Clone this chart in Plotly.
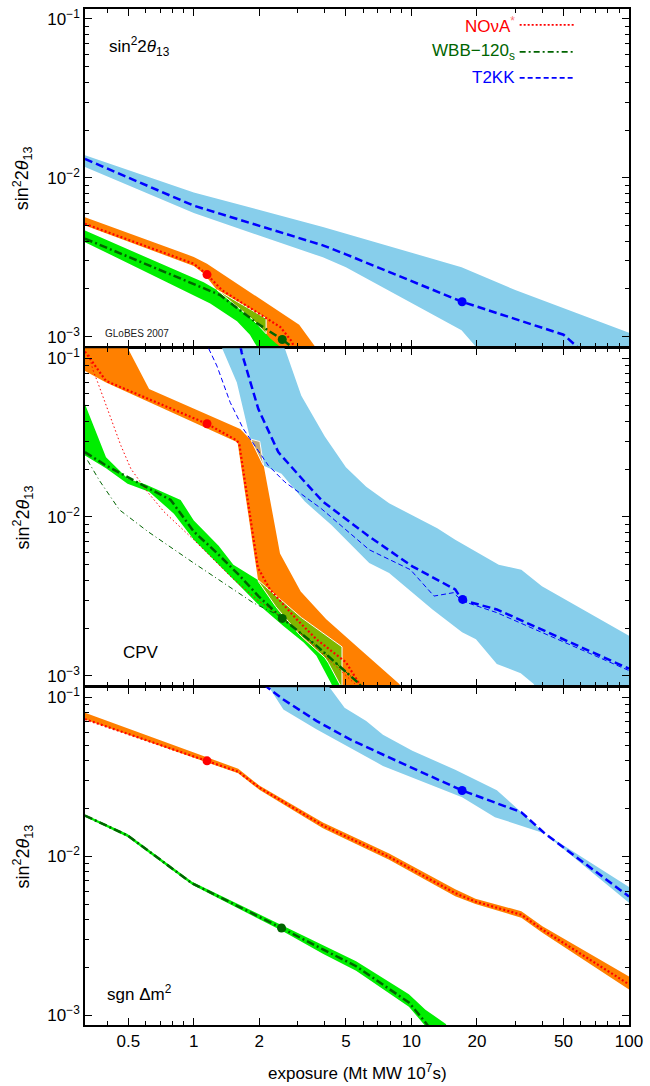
import numpy as np
import plotly.graph_objects as go
from plotly.subplots import make_subplots

# ================= DATA =================
# ---- panel 1: sin^2 2theta13 ----
p1_nova_line_x = [0.316, 1.0, 1.15, 1.35, 2.5, 2.81, 3.1]
p1_nova_line_y = [0.00513, 0.00288, 0.00246, 0.00196, 0.00115, 0.00094, 0.0007]
p1_nova_up_x = [0.316, 1.0, 1.15, 3.05, 3.6, 4.2]
p1_nova_up_y = [0.00565, 0.00318, 0.00288, 0.00119, 0.00087, 0.0006]
p1_nova_lo_x = [0.316, 1.0, 1.11, 1.278, 1.946, 2.24, 2.58, 2.9]
p1_nova_lo_y = [0.00501, 0.00279, 0.0025, 0.00197, 0.00122, 0.00098, 0.00083, 0.0006]

p1_wbb_line_x = [0.316, 1.32, 1.946, 2.55, 2.86, 3.1]
p1_wbb_line_y = [0.00414, 0.00183, 0.00122, 0.00096, 0.00085, 0.0007]
p1_wbb_up_x = [0.316, 1.11, 1.278, 2.49, 2.97, 3.3]
p1_wbb_up_y = [0.00466, 0.0022, 0.00197, 0.00116, 0.00088, 0.0006]
p1_wbb_lo_x = [0.316, 1.19, 1.58, 1.81, 1.946, 2.15]
p1_wbb_lo_y = [0.00394, 0.00162, 0.00125, 0.00103, 0.00087, 0.0006]

p1_t2kk_line_x = [0.316, 1.0, 3.92, 5.0, 17.1, 50, 57.5, 65]
p1_t2kk_line_y = [0.01315, 0.00668, 0.00376, 0.0033, 0.00166, 0.00103, 0.00087, 0.0007]
p1_t2kk_up_x = [0.316, 1.0, 3.92, 17.0, 30, 100]
p1_t2kk_up_y = [0.0139, 0.0081, 0.0049, 0.00274, 0.00197, 0.00106]
p1_t2kk_lo_x = [0.316, 1.0, 3.92, 5.0, 17.0, 19.7, 22, 100]
p1_t2kk_lo_y = [0.0117, 0.0060, 0.00316, 0.00274, 0.0011, 0.00087, 0.0006, 0.0003]

p1_dots_x = [1.15, 2.55, 17.1]
p1_dots_y = [0.00246, 0.00096, 0.00166]

# ---- panel 2: CPV ----
p2_nova_line_x = [0.316, 0.395, 1.15, 1.577, 1.62, 1.8, 1.97, 2.24, 2.97, 3.66, 5.0, 5.77, 6.5]
p2_nova_line_y = [0.11, 0.0718, 0.0386, 0.0303, 0.0285, 0.0105, 0.0048, 0.0035, 0.00227, 0.0017, 0.00122, 0.00089, 0.0007]
p2_nova_up_x = [0.316, 0.49, 0.623, 1.634, 1.81, 2.01, 2.09, 2.49, 3.1, 4.06, 5.77, 8.8, 10.5]
p2_nova_up_y = [0.15, 0.12, 0.064, 0.0358, 0.031, 0.030, 0.0215, 0.0059, 0.0034, 0.00227, 0.00148, 0.00089, 0.0006]
p2_nova_lo_x = [0.316, 0.395, 1.577, 1.59, 1.78, 1.94, 1.98, 2.49, 3.2, 4.06, 4.67, 5.5]
p2_nova_lo_y = [0.083, 0.0702, 0.0296, 0.0293, 0.0105, 0.0047, 0.0039, 0.0025, 0.0017, 0.00128, 0.00089, 0.0006]
p2_nova_thin_x = [0.33, 0.343, 0.362, 0.417, 0.462, 0.514, 0.612, 0.729, 1.0, 1.47, 1.946, 2.58, 3.66, 5.5]
p2_nova_thin_y = [0.105, 0.0851, 0.0702, 0.0414, 0.0282, 0.0201, 0.0144, 0.0108, 0.00718, 0.00424, 0.00303, 0.0023, 0.0015, 0.00089]

p2_wbb_line_x = [0.316, 0.395, 0.601, 0.783, 1.0, 1.278, 1.634, 1.98, 2.55, 3.66, 5.77, 6.5]
p2_wbb_line_y = [0.0256, 0.0211, 0.0155, 0.0128, 0.0081, 0.00593, 0.00424, 0.00318, 0.0023, 0.00155, 0.00089, 0.0007]
p2_wbb_up_x = [0.316, 0.395, 0.496, 0.601, 0.87, 1.0, 1.30, 1.52, 1.98, 2.97, 3.92, 6.4, 6.99, 7.8]
p2_wbb_up_y = [0.0514, 0.0238, 0.0175, 0.0160, 0.0128, 0.0095, 0.0066, 0.0050, 0.0040, 0.00244, 0.00188, 0.00113, 0.00089, 0.0006]
p2_wbb_lo_x = [0.316, 0.395, 0.496, 0.623, 0.69, 0.81, 1.0, 1.278, 1.634, 1.946, 2.58, 3.2, 3.66, 4.29, 4.8]
p2_wbb_lo_y = [0.0244, 0.0203, 0.0162, 0.0144, 0.0128, 0.0105, 0.00718, 0.00513, 0.00367, 0.00288, 0.00206, 0.00162, 0.00134, 0.00089, 0.0006]
p2_wbb_thin_x = [0.325, 0.368, 0.455, 0.615, 1.0, 1.37, 1.88, 2.49, 3.66, 5.77, 6.5]
p2_wbb_thin_y = [0.0227, 0.0170, 0.0111, 0.0081, 0.00513, 0.00385, 0.00288, 0.00238, 0.00155, 0.00089, 0.0007]

p2_t2kk_line_x = [1.6, 1.66, 1.98, 2.445, 3.24, 3.92, 6.4, 10.1, 15.9, 17.1, 24.7, 100]
p2_t2kk_line_y = [0.14, 0.108, 0.0478, 0.0256, 0.0166, 0.0125, 0.00753, 0.00489, 0.0035, 0.0030, 0.00262, 0.00111]
p2_t2kk_up_x = [1.3, 2.62, 3.12, 4.0, 5.0, 6.2, 7.9, 13.15, 15.9, 25.2, 32, 39.8, 100]
p2_t2kk_up_y = [0.2, 0.115, 0.0579, 0.0321, 0.0206, 0.0155, 0.0122, 0.0085, 0.00718, 0.0050, 0.00466, 0.00367, 0.00179]
p2_t2kk_lo_x = [1.3, 1.577, 1.81, 2.087, 2.53, 3.24, 4.29, 6.4, 7.9, 10.1, 12.5, 17.1, 19.8, 24.7, 31.8, 36.5, 40, 100]
p2_t2kk_lo_y = [0.13, 0.0702, 0.0315, 0.0211, 0.0187, 0.0125, 0.0089, 0.00513, 0.00445, 0.00334, 0.00262, 0.00188, 0.0017, 0.00119, 0.00104, 0.00089, 0.0006, 0.0003]
p2_t2kk_thin_x = [1.17, 1.278, 1.47, 1.69, 2.2, 2.62, 3.85, 6.4, 9.9, 12.7, 15.6, 17.1, 24.7, 100]
p2_t2kk_thin_y = [0.115, 0.0891, 0.0526, 0.0358, 0.0211, 0.0166, 0.0113, 0.00622, 0.00466, 0.00318, 0.00334, 0.00296, 0.0025, 0.00108]

p2_dots_x = [1.15, 2.55, 17.2]
p2_dots_y = [0.0386, 0.0023, 0.00303]

# ---- panel 3: sgn dm^2 ----
p3_nova_x = [0.316, 1.15, 1.6, 2.0, 3.92, 7.9, 15.9, 19.7, 32, 40, 100]
p3_nova_line_y = [0.0728, 0.0398, 0.0340, 0.0270, 0.0156, 0.0099, 0.00585, 0.00518, 0.00428, 0.00345, 0.00156]
p3_nova_up_y = [0.080, 0.0415, 0.0355, 0.0278, 0.0163, 0.0104, 0.0062, 0.0054, 0.0045, 0.00362, 0.00175]
p3_nova_lo_y = [0.0726, 0.0390, 0.0332, 0.0262, 0.0150, 0.0095, 0.0056, 0.0050, 0.0041, 0.0033, 0.00145]

p3_wbb_line_x = [0.316, 0.496, 0.982, 1.5, 2.53, 3.92, 5.57, 9.74, 11.6, 14.4]
p3_wbb_line_y = [0.0180, 0.0135, 0.00675, 0.00506, 0.00353, 0.00259, 0.00203, 0.0012, 0.0009, 0.0006]
p3_wbb_up_x = [0.316, 0.496, 0.982, 1.5, 2.53, 3.92, 5.57, 9.74, 11.6, 14.4, 16.0]
p3_wbb_up_y = [0.0183, 0.0138, 0.0069, 0.0052, 0.0037, 0.00275, 0.00218, 0.00135, 0.00108, 0.00088, 0.0006]
p3_wbb_lo_x = [0.316, 0.496, 0.982, 1.5, 2.53, 3.92, 5.57, 9.74, 11.6, 14.4]
p3_wbb_lo_y = [0.0177, 0.0132, 0.0066, 0.0049, 0.0034, 0.00243, 0.0019, 0.00113, 0.00085, 0.0006]

p3_t2kk_line_x = [2.1, 2.58, 3.66, 5.2, 7.9, 17.1, 32, 41, 100]
p3_t2kk_line_y = [0.12, 0.0967, 0.071, 0.0545, 0.0418, 0.0259, 0.0189, 0.0139, 0.00557]
p3_t2kk_up_x = [2.1, 4.21, 4.93, 6.2, 7.4, 10.1, 15.9, 24.7, 41, 100]
p3_t2kk_up_y = [0.3, 0.115, 0.086, 0.071, 0.058, 0.046, 0.035, 0.026, 0.0139, 0.0064]
p3_t2kk_lo_x = [2.1, 2.58, 3.66, 7.4, 17.1, 24.2, 41, 100]
p3_t2kk_lo_y = [0.13, 0.0838, 0.063, 0.037, 0.0235, 0.0176, 0.0139, 0.0051]

p3_dots_x = [1.15, 2.53, 17.1]
p3_dots_y = [0.0398, 0.00353, 0.0259]

# ---- axes / labels ----
x_major = [0.5, 1, 2, 5, 10, 20, 50, 100]
x_major_text = ["0.5", "1", "2", "5", "10", "20", "50", "100"]
x_minor = [0.4, 0.6, 0.7, 0.8, 0.9, 3, 4, 6, 7, 8, 9, 30, 40, 60, 70, 80, 90]
y_major = [1e-3, 1e-2, 1e-1]
y_major_text = ["10<sup>\u22123</sup>", "10<sup>\u22122</sup>", "10<sup>\u22121</sup>"]
y_minor = [k * 1e-3 for k in range(2, 10)] + [k * 1e-2 for k in range(2, 10)]
panel_labels = ["sin<sup>2</sup>2<i>\u03b8</i><sub>13</sub>", "CPV", "sgn \u0394m<sup>2</sup>"]
y_title = "sin<sup>2</sup>2<i>\u03b8</i><sub>13</sub>"
x_title = "exposure (Mt MW 10<sup>7</sup>s)"
legend_names = ["NO\u03bdA<sup><span style='color:#ff7070'>*</span></sup>", "WBB\u2212120<sub>s</sub>", "T2KK"]

# ================= STYLE =================
FONT = "Liberation Sans, Arial, Helvetica, sans-serif"
ORANGE = (255, 128, 0)
GREEN = (0, 238, 0)
SKY = (135, 206, 235)
RED = "#ff0000"
DGREEN = "#006400"
BLUE = "#0000ff"
H_PLOT = 1086 - 7 - 61
LW = 1.5


def rgb(c):
    return "rgb(%d,%d,%d)" % c


def mix(a, b):
    return tuple((p + q) // 2 for p, q in zip(a, b))


fig = make_subplots(rows=3, cols=1, shared_xaxes=True, vertical_spacing=0)


def add_band(row, xu, yu, xl, yl, color):
    fig.add_trace(go.Scatter(x=list(xu) + list(xl)[::-1], y=list(yu) + list(yl)[::-1],
                             fill="toself", fillcolor=rgb(color), mode="lines",
                             line=dict(width=0, color=rgb(color)), hoverinfo="skip",
                             showlegend=False), row=row, col=1)


def interp_log(xs, ys, xg):
    return 10 ** np.interp(np.log10(xg), np.log10(xs), np.log10(ys))


def add_overlap(row, A, B, color):
    arrs = [A[0], A[2], B[0], B[2]]
    x0 = max(min(a) for a in arrs)
    x1 = min(max(a) for a in arrs)
    if x0 >= x1:
        return
    xg = np.logspace(np.log10(x0), np.log10(x1), 900)
    hi = np.minimum(interp_log(A[0], A[1], xg), interp_log(B[0], B[1], xg))
    lo = np.maximum(interp_log(A[2], A[3], xg), interp_log(B[2], B[3], xg))
    m = hi > lo
    px, py = [], []
    i, n = 0, len(xg)
    while i < n:
        if m[i]:
            j = i
            while j < n and m[j]:
                j += 1
            xs = list(xg[i:j])
            px += xs + xs[::-1] + [xs[0], None]
            py += list(hi[i:j]) + list(lo[i:j][::-1]) + [hi[i], None]
            i = j
        else:
            i += 1
    if px:
        fig.add_trace(go.Scatter(x=px, y=py, fill="toself", fillcolor=rgb(color), mode="lines",
                                 line=dict(width=1, color="white"), hoverinfo="skip",
                                 showlegend=False), row=row, col=1)


def add_line(row, x, y, color, width, dash):
    fig.add_trace(go.Scatter(x=x, y=y, mode="lines", line=dict(color=color, width=width, dash=dash),
                             hoverinfo="skip", showlegend=False), row=row, col=1)


def add_dots(row, x, y):
    fig.add_trace(go.Scatter(x=x, y=y, mode="markers",
                             marker=dict(color=[RED, DGREEN, BLUE], size=9, line=dict(width=0)),
                             hoverinfo="skip", showlegend=False, cliponaxis=True), row=row, col=1)


DOT = "2px,2.2px"
DASHDOT = "8px,3px,2px,3px"
DASH = "8px,4px"

panels = [
    dict(nova=(p1_nova_up_x, p1_nova_up_y, p1_nova_lo_x, p1_nova_lo_y),
         wbb=(p1_wbb_up_x, p1_wbb_up_y, p1_wbb_lo_x, p1_wbb_lo_y),
         t2kk=(p1_t2kk_up_x, p1_t2kk_up_y, p1_t2kk_lo_x, p1_t2kk_lo_y),
         lines=[(p1_nova_line_x, p1_nova_line_y), (p1_wbb_line_x, p1_wbb_line_y), (p1_t2kk_line_x, p1_t2kk_line_y)],
         thin=None, dots=(p1_dots_x, p1_dots_y)),
    dict(nova=(p2_nova_up_x, p2_nova_up_y, p2_nova_lo_x, p2_nova_lo_y),
         wbb=(p2_wbb_up_x, p2_wbb_up_y, p2_wbb_lo_x, p2_wbb_lo_y),
         t2kk=(p2_t2kk_up_x, p2_t2kk_up_y, p2_t2kk_lo_x, p2_t2kk_lo_y),
         lines=[(p2_nova_line_x, p2_nova_line_y), (p2_wbb_line_x, p2_wbb_line_y), (p2_t2kk_line_x, p2_t2kk_line_y)],
         thin=[(p2_nova_thin_x, p2_nova_thin_y), (p2_wbb_thin_x, p2_wbb_thin_y), (p2_t2kk_thin_x, p2_t2kk_thin_y)],
         dots=(p2_dots_x, p2_dots_y)),
    dict(nova=(p3_nova_x, p3_nova_up_y, p3_nova_x, p3_nova_lo_y),
         wbb=(p3_wbb_up_x, p3_wbb_up_y, p3_wbb_lo_x, p3_wbb_lo_y),
         t2kk=(p3_t2kk_up_x, p3_t2kk_up_y, p3_t2kk_lo_x, p3_t2kk_lo_y),
         lines=[(p3_nova_x, p3_nova_line_y), (p3_wbb_line_x, p3_wbb_line_y), (p3_t2kk_line_x, p3_t2kk_line_y)],
         thin=None, dots=(p3_dots_x, p3_dots_y)),
]

for r, P in enumerate(panels, start=1):
    add_band(r, *P["t2kk"], SKY)
    add_band(r, *P["wbb"], GREEN)
    add_band(r, *P["nova"], ORANGE)
    add_overlap(r, P["nova"], P["wbb"], mix(ORANGE, GREEN))
    add_overlap(r, P["nova"], P["t2kk"], mix(ORANGE, SKY))
    add_overlap(r, P["wbb"], P["t2kk"], mix(GREEN, SKY))
    if P["thin"]:
        add_line(r, *P["thin"][0], RED, 1, "1.5px,2.5px")
        add_line(r, *P["thin"][1], DGREEN, 1, "5px,3px,1px,3px")
        add_line(r, *P["thin"][2], BLUE, 1, "5px,3px")
    add_line(r, *P["lines"][0], RED, 2.2, DOT)
    add_line(r, *P["lines"][1], DGREEN, 2.5, DASHDOT)
    add_line(r, *P["lines"][2], BLUE, 2.5, DASH)
    add_dots(r, *P["dots"])

axis_common = dict(showline=True, linecolor="black", linewidth=LW, mirror="ticks",
                   ticks="inside", tickcolor="black", tickwidth=1.2, showgrid=False, zeroline=False,
                   tickfont=dict(family=FONT, size=17, color="black"))

# panel domains separated by one axis-line width so the box lines of adjacent panels coincide
g = LW / H_PLOT
ph = (1 - 2 * g) / 3
domains = [[1 - ph, 1], [ph + g, 2 * ph + g], [0, ph]]

for r in range(1, 4):
    fig.update_xaxes(type="log", range=[-0.5, 2], tickmode="array", tickvals=x_major, ticktext=x_major_text,
                     ticklen=7, minor=dict(ticks="inside", ticklen=4, tickwidth=1, tickcolor="black",
                                           tickmode="array", tickvals=x_minor, showgrid=False),
                     **axis_common, row=r, col=1)
    fig.update_yaxes(type="log", range=[-3.0625, -0.9375], tickmode="array", tickvals=y_major,
                     ticktext=y_major_text, ticklen=7, domain=domains[r - 1],
                     minor=dict(ticks="inside", ticklen=4, tickwidth=1, tickcolor="black",
                                tickmode="array", tickvals=y_minor, showgrid=False),
                     **axis_common, row=r, col=1)

annotations = []
for d in domains:
    annotations.append(dict(text=y_title, x=-0.115, y=(d[0] + d[1]) / 2, xref="paper", yref="paper",
                            showarrow=False, textangle=-90, xanchor="center", yanchor="middle",
                            font=dict(family=FONT, size=18, color="black")))
annotations.append(dict(text=x_title, x=0.5, y=-0.046, xref="paper", yref="paper", showarrow=False,
                        xanchor="center", yanchor="middle", font=dict(family=FONT, size=17, color="black")))
label_pos = [(0.040, 0.9627), (0.066, 0.3664), (0.037, 0.0314)]
for t, (lx, ly) in zip(panel_labels, label_pos):
    annotations.append(dict(text=t, x=lx, y=ly, xref="paper", yref="paper", showarrow=False,
                            xanchor="left", yanchor="middle", font=dict(family=FONT, size=17, color="black")))
annotations.append(dict(text="GLoBES 2007", x=0.033, y=0.6807, xref="paper", yref="paper", showarrow=False,
                        xanchor="left", yanchor="middle", font=dict(family=FONT, size=10, color="#222")))

leg_colors = [RED, DGREEN, BLUE]
leg_dash = ["2px,2px", "6px,3px,2px,3px", "5px,3px"]
leg_y = [0.9843, 0.9578, 0.9322]
shapes = []
for name, col, dsh, ly in zip(legend_names, leg_colors, leg_dash, leg_y):
    annotations.append(dict(text=name, x=0.7938, y=ly, xref="paper", yref="paper", showarrow=False,
                            xanchor="right", yanchor="middle", font=dict(family=FONT, size=17, color=col)))
    shapes.append(dict(type="line", xref="paper", yref="paper", x0=0.799, x1=0.8996, y0=ly, y1=ly,
                       line=dict(color=col, width=1.8, dash=dsh)))

fig.update_layout(width=650, height=1086, margin=dict(l=85, r=17, t=7, b=61),
                  paper_bgcolor="white", plot_bgcolor="white", showlegend=False,
                  annotations=annotations, shapes=shapes, font=dict(family=FONT))

fig.write_html("out.html", config={"displayModeBar": False},
               post_script="document.body.style.margin='0px';document.body.style.overflow='hidden';")
